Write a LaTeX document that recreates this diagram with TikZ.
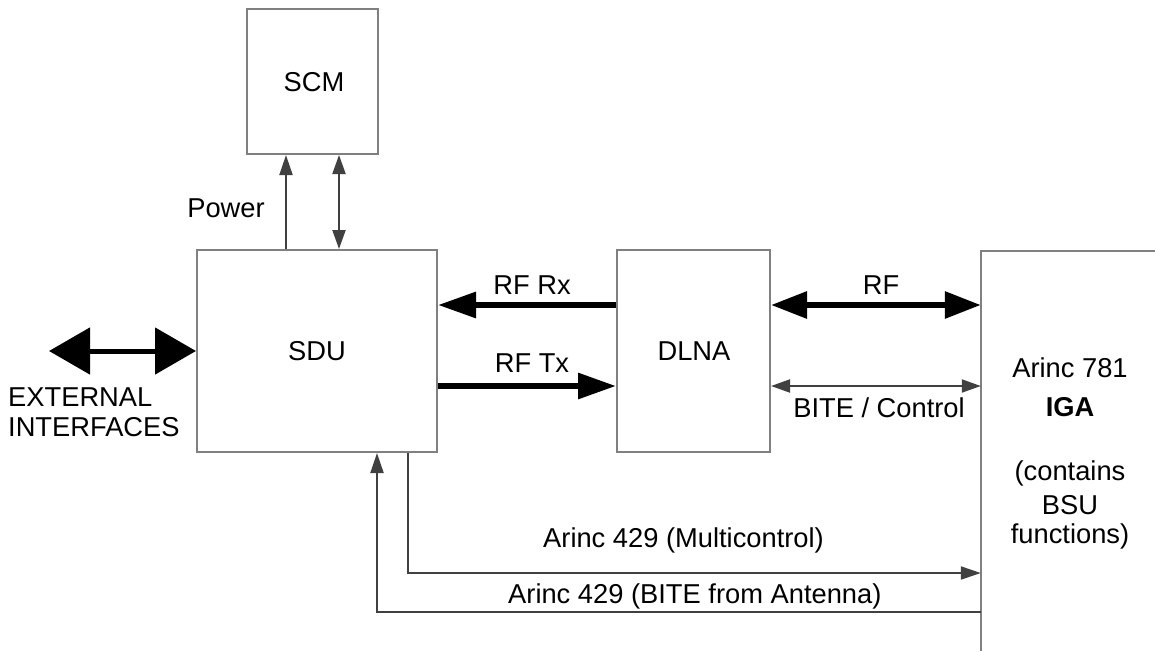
\documentclass[tikz,border=0pt]{standalone}
\usepackage{fontspec}
\setmainfont{Liberation Sans}
\usetikzlibrary{arrows.meta}
\definecolor{boxgray}{HTML}{808080}
\definecolor{linegray}{HTML}{404040}
\begin{document}
\begin{tikzpicture}[x=1pt,y=-1pt,
  every node/.style={font=\fontsize{27.3}{32}\selectfont, inner sep=0pt},
  box/.style={draw=boxgray, line width=2pt, minimum width=#1},
  thinline/.style={draw=linegray, line width=2pt},
  thinarr/.style={thinline, -{Triangle[length=20pt,width=13pt]}},
  thinbi/.style={thinline, {Triangle[length=19pt,width=13pt]}-{Triangle[length=19pt,width=13pt]}},
  fatarr/.style={draw=black, line width=6pt, -{Triangle[length=38pt,width=25pt]}},
  fatbi/.style={draw=black, line width=6pt, {Triangle[length=36pt,width=26pt]}-{Triangle[length=36pt,width=26pt]}},
  extbi/.style={draw=black, line width=5pt, {Triangle[length=41pt,width=46pt]}-{Triangle[length=41pt,width=46pt]}},
  lbl/.style={anchor=base}
]
\useasboundingbox (0,0) rectangle (1155,651);
\fill[white] (0,0) rectangle (1155,651);

% boxes
\node[box=131pt, minimum height=145pt] (scm) at (312.5,81.5) {};
\node[box=240pt, minimum height=202pt] (sdu) at (317,351) {};
\node[box=153pt, minimum height=202pt] (dlna) at (693.5,351) {};
\node[minimum width=174pt, minimum height=400pt] (iga) at (1068,451) {};
\draw[draw=boxgray, line width=2pt] (iga.south west) -- (iga.north west) -- (iga.north east);

% box texts
\node[lbl] (scmt) at (314,91) {SCM};
\node[lbl] (sdut) at (317,360) {SDU};
\node[lbl] (dlnat) at (694,360) {DLNA};
\node[lbl] (iga1) at (1070,377) {Arinc 781};
\node[lbl] (iga2) at (1070,416) {\bfseries IGA};
\node[lbl] (iga3) at (1070,480) {(contains};
\node[lbl] (iga4) at (1070,514) {BSU};
\node[lbl] (iga5) at (1070,543) {functions)};

% helper coordinates
\coordinate (xp) at (286,0);
\coordinate (xb) at (339,0);
\coordinate (yrx) at (0,305);
\coordinate (ytx) at (0,386);
\coordinate (xm) at (408,0);
\coordinate (ym) at (0,573);
\coordinate (xbi) at (377,0);
\coordinate (ybi) at (0,612);
\coordinate (extl) at (49,351);

% SCM links
\draw[thinarr] (sdu.north -| xp) -- (scm.south -| xp);
\draw[thinbi] (sdu.north -| xb) -- (scm.south -| xb);
\node[lbl] (pwr) at (226,217) {Power};

% external interfaces
\draw[extbi] (extl) -- (sdu.west |- extl);
\node[anchor=base west, align=left] (ext1) at (8,406) {EXTERNAL};
\node[anchor=base west, align=left] (ext2) at (8,436) {INTERFACES};

% SDU <-> DLNA
\draw[fatarr] (dlna.west |- yrx) -- (sdu.east |- yrx);
\node[lbl] (rrx) at (532,294) {RF Rx};
\draw[fatarr] (sdu.east |- ytx) -- (dlna.west |- ytx);
\node[lbl] (rtx) at (532,372) {RF Tx};

% DLNA <-> IGA
\draw[fatbi] (dlna.east |- yrx) -- (iga.west |- yrx);
\node[lbl] (rf) at (881,294) {RF};
\draw[thinbi] (dlna.east |- ytx) -- (iga.west |- ytx);
\node[lbl] (bite) at (879,417) {BITE / Control};

% Arinc 429 links
\draw[thinarr] (sdu.south -| xm) |- (iga.west |- ym);
\node[anchor=base west] (a1) at (543,547) {Arinc 429 (Multicontrol)};
\draw[thinarr] (iga.west |- ybi) -| (sdu.south -| xbi);
\node[anchor=base west] (a2) at (508,603) {Arinc 429 (BITE from Antenna)};
\end{tikzpicture}
\end{document}
